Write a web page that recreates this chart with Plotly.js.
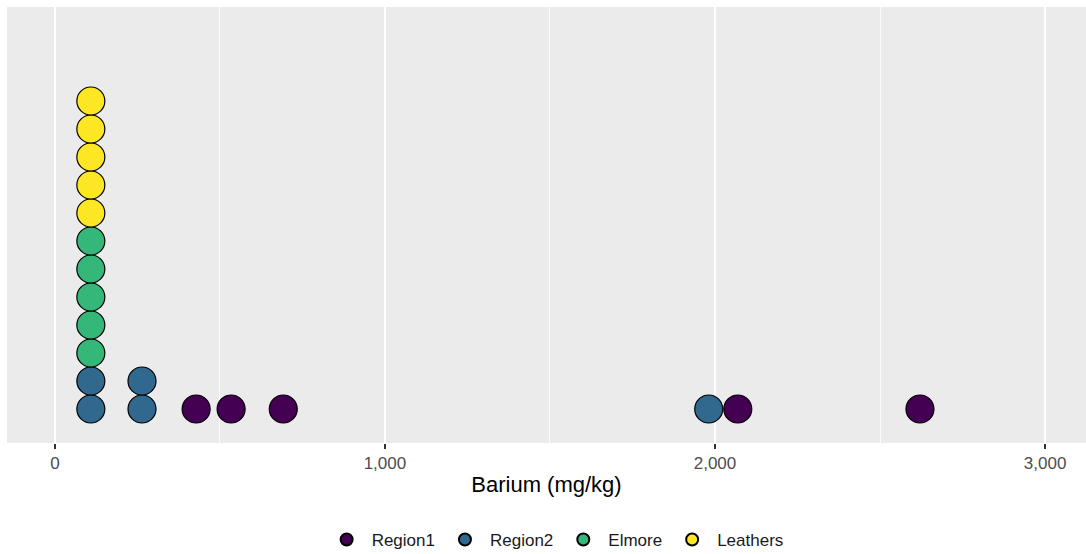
<!DOCTYPE html>
<html>
<head>
<meta charset="utf-8">
<script src="https://cdn.plot.ly/plotly-3.0.1.min.js"></script>
<style>html,body{margin:0;padding:0;background:#fff;}#chart{width:1086px;height:554px;}</style>
</head>
<body>
<div id="chart"></div>
<script>
// Data (Barium, mg/kg)
const groups = ["Region1", "Region2", "Elmore", "Leathers"];
const region1 = [428, 534, 692, 2069, 2621];
const region2 = [109, 109, 264, 264, 1981];
const elmore = [109, 109, 109, 109, 109];
const leathers = [109, 109, 109, 109, 109];
const colors = ["#440154", "#31688E", "#35B779", "#FDE725"];

const seriesValues = [region1, region2, elmore, leathers];

// stack dots with identical values (dot plot bins), groups stacked in order
const stackCount = {};
const traces = seriesValues.map((vals, gi) => {
  const ys = vals.map(v => {
    const k = stackCount[v] || 0;
    stackCount[v] = k + 1;
    return k;
  });
  return {
    type: "scatter",
    mode: "markers",
    name: groups[gi],
    x: vals,
    y: ys,
    marker: {size: 28, color: colors[gi], line: {color: "#000", width: 1.2}},
    hoverinfo: "skip"
  };
});

const layout = {
  width: 1086, height: 554,
  margin: {l: 7, r: 0, t: 7, b: 111, autoexpand: false},
  paper_bgcolor: "#fff",
  plot_bgcolor: "#EBEBEB",
  font: {family: "Liberation Sans, Arial, sans-serif", color: "#000"},
  showlegend: true,
  legend: {
    orientation: "h", xref: "paper", yref: "paper",
    x: 0.508, xanchor: "center", y: -0.2225, yanchor: "middle",
    font: {size: 17, color: "#1a1a1a"},
    itemsizing: "constant", itemwidth: 40,
    traceorder: "normal"
  },
  xaxis: {
    range: [-145, 3124],
    tickvals: [0, 1000, 2000, 3000],
    ticktext: ["0", "1,000", "2,000", "3,000"],
    showgrid: true, gridcolor: "#FFFFFF", gridwidth: 1.6,
    minor: {tickvals: [500, 1500, 2500], showgrid: true, gridcolor: "#FFFFFF", gridwidth: 0.8},
    zeroline: false, showline: false, automargin: false,
    ticks: "outside", ticklen: 5, tickwidth: 1.5, tickcolor: "#333333",
    tickfont: {size: 17, color: "#4D4D4D"},
    title: {text: "Barium (mg/kg)", font: {size: 22, color: "#000"}, standoff: 4}
  },
  yaxis: {
    range: [-1.214, 14.357],
    showgrid: false, zeroline: false, showticklabels: false, ticks: "", showline: false
  }
};

Plotly.newPlot("chart", traces, layout, {displayModeBar: false, staticPlot: true});
</script>
</body>
</html>
